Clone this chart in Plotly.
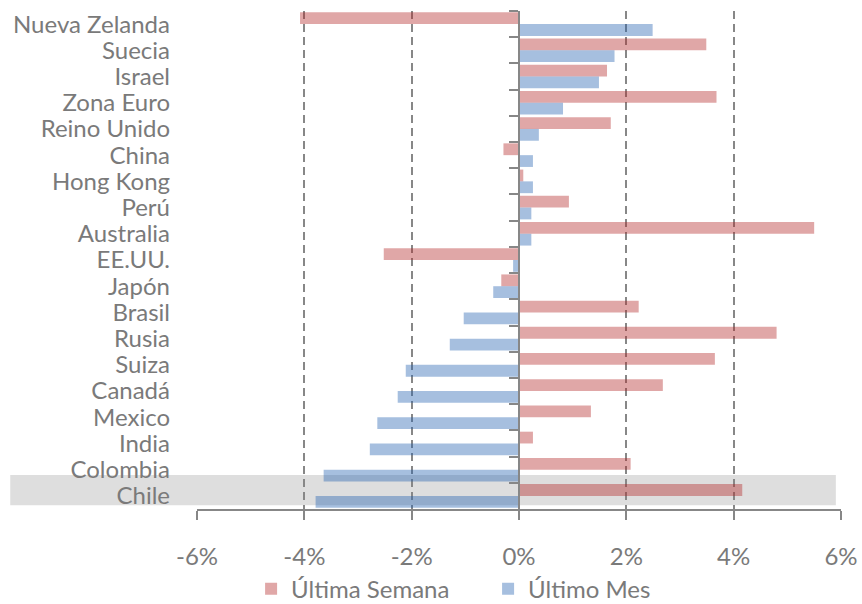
import plotly.graph_objects as go

# Countries, top to bottom
paises = ["Nueva Zelanda", "Suecia", "Israel", "Zona Euro", "Reino Unido", "China",
          "Hong Kong", "Perú", "Australia", "EE.UU.", "Japón", "Brasil", "Rusia",
          "Suiza", "Canadá", "Mexico", "India", "Colombia", "Chile"]

# Percentage change (%)
ultima_semana = [-4.08, 3.49, 1.64, 3.68, 1.71, -0.29, 0.08, 0.93, 5.50, -2.52,
                 -0.33, 2.23, 4.80, 3.65, 2.68, 1.34, 0.26, 2.08, 4.16]
ultimo_mes = [2.49, 1.78, 1.49, 0.82, 0.37, 0.26, 0.26, 0.23, 0.23, -0.11,
              -0.48, -1.03, -1.29, -2.11, -2.26, -2.64, -2.78, -3.64, -3.79]

x_ticks = [-6, -4, -2, 0, 2, 4, 6]
x_tick_labels = ["-6%", "-4%", "-2%", "0%", "2%", "4%", "6%"]

GREY = "#878787"
TEXT = "#7a7a7a"
FONT = "Lato"

n = len(paises)
y_range = [n - 0.5, -0.5]

fig = go.Figure()
fig.add_trace(go.Bar(
    name="Última Semana", y=paises, x=ultima_semana, orientation="h",
    marker=dict(color="rgba(177,35,35,0.4)", line=dict(width=0)),
    legend="legend",
))
fig.add_trace(go.Bar(
    name="Último Mes", y=paises, x=ultimo_mes, orientation="h",
    marker=dict(color="rgba(33,95,175,0.4)", line=dict(width=0)),
    legend="legend2",
))
# helper trace so the zero-line axis knows the categories
fig.add_trace(go.Scatter(
    x=[0] * n, y=paises, yaxis="y2", mode="markers",
    marker=dict(opacity=0), showlegend=False, hoverinfo="skip",
))

# highlight band behind Chile
chile = paises.index("Chile")
fig.add_shape(type="rect", xref="paper", yref="y",
              x0=-0.29, x1=0.992, y0=chile - 0.8, y1=chile + 0.36,
              fillcolor="#dedede", line=dict(width=0), layer="below")

legend_style = dict(orientation="h", yanchor="middle", y=-0.161, xanchor="left",
                    font=dict(size=24, color=TEXT), itemwidth=30,
                    bgcolor="rgba(0,0,0,0)")

fig.update_layout(
    width=862, height=604,
    margin=dict(l=197, r=21, t=11, b=95, autoexpand=False),
    paper_bgcolor="white", plot_bgcolor="white",
    barmode="group", bargap=0.1, bargroupgap=0,
    font=dict(family=FONT, size=24, color=TEXT),
    showlegend=True,
    legend=dict(x=0.084, **legend_style),
    legend2=dict(x=0.452, **legend_style),
    xaxis=dict(
        range=[-6, 6], tickvals=x_ticks, ticktext=x_tick_labels,
        showgrid=True, gridcolor=GREY, gridwidth=2, griddash="8px,5px",
        zeroline=False, showline=True, linecolor=GREY, linewidth=2,
        ticks="outside", ticklen=9, tickwidth=2, tickcolor=GREY,
        ticklabelstandoff=16, fixedrange=True, automargin=False,
    ),
    yaxis=dict(
        type="category", categoryorder="array", categoryarray=paises,
        tickmode="array", tickvals=paises,
        range=y_range, showgrid=False, zeroline=False, showline=False,
        ticks="", ticklabelstandoff=26, automargin=False,
    ),
    yaxis2=dict(
        type="category", categoryorder="array", categoryarray=paises,
        tickmode="linear", tick0=0, dtick=1,
        range=y_range, overlaying="y", anchor="free", position=0.5,
        showgrid=False, zeroline=False, showline=True, linecolor=GREY, linewidth=2,
        ticks="outside", tickson="boundaries", ticklen=9, tickwidth=2, tickcolor=GREY,
        showticklabels=False, automargin=False,
    ),
)

fig.write_html("out.html")
